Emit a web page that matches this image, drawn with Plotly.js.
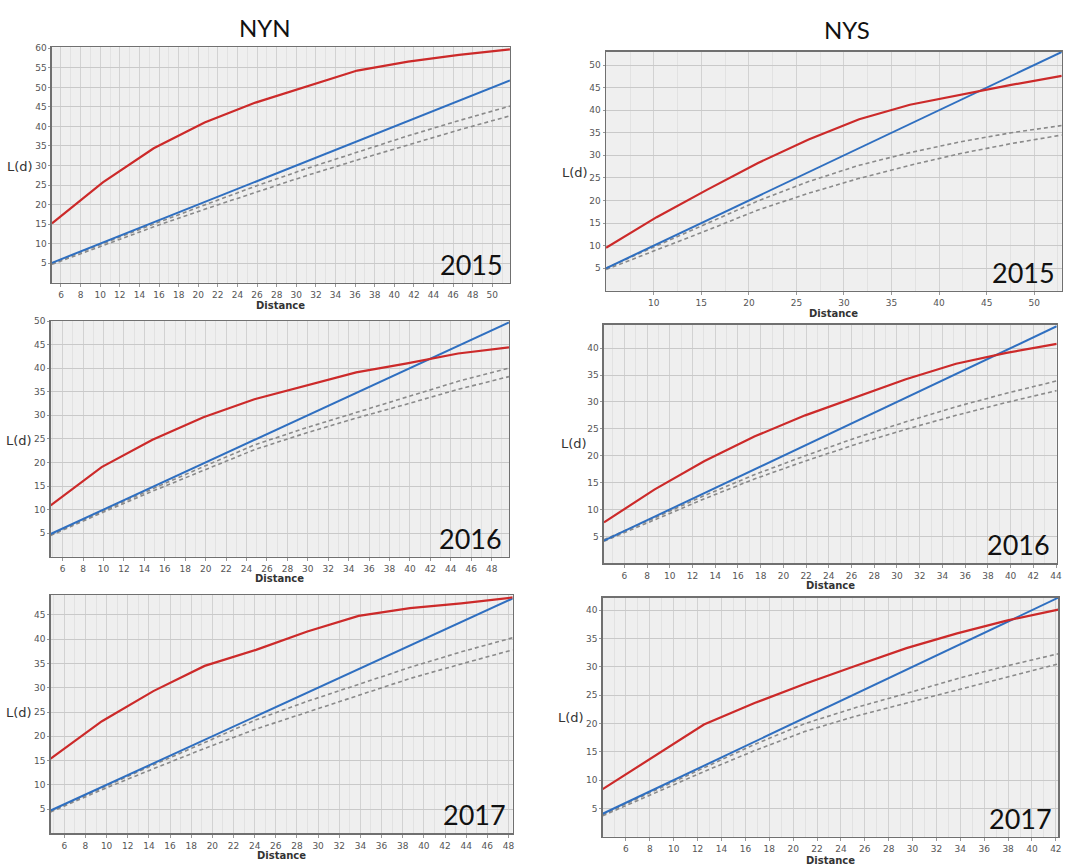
<!DOCTYPE html>
<html>
<head>
<meta charset="utf-8">
<script src="https://cdn.plot.ly/plotly-3.0.1.min.js"></script>
<style>html,body{margin:0;padding:0;background:#fff;}#chart{width:1092px;height:865px;}</style>
</head>
<body>
<div id="chart"></div>
<script>
// ---- Data ----
const regions = ["NYN", "NYS"];
const years = ["2015", "2016", "2017"];

// NYN 2015
const nyn2015Distance = [5.08, 10.27, 15.46, 20.65, 25.84, 31.03, 36.22, 41.41, 46.6, 51.8];
const nyn2015Observed = [15.2, 25.7, 34.4, 41.0, 46.1, 50.2, 54.3, 56.6, 58.3, 59.7];
const nyn2015Expected = [5.08, 10.27, 15.46, 20.65, 25.84, 31.03, 36.22, 41.41, 46.6, 51.8];
const nyn2015Upper    = [5.0, 10.1, 15.0, 19.9, 24.7, 29.2, 33.4, 37.6, 41.5, 45.2];
const nyn2015Lower    = [4.7, 9.6, 14.3, 18.8, 23.2, 27.4, 31.4, 35.3, 39.1, 42.7];

// NYS 2015
const nys2015Distance = [4.98, 10.3, 15.63, 20.96, 26.28, 31.6, 36.93, 42.26, 47.58, 52.9];
const nys2015Observed = [9.5, 16.3, 22.4, 28.3, 33.5, 38.0, 41.2, 43.4, 45.6, 47.6];
const nys2015Expected = [4.98, 10.3, 15.63, 20.96, 26.28, 31.6, 36.93, 42.26, 47.58, 52.9];
const nys2015Upper    = [5.0, 10.0, 15.0, 19.9, 24.2, 27.8, 30.6, 33.0, 35.0, 36.6];
const nys2015Lower    = [4.7, 9.0, 13.4, 17.9, 21.6, 24.9, 27.8, 30.4, 32.6, 34.5];

// NYN 2016
const nyn2016Distance = [4.82, 9.81, 14.79, 19.78, 24.77, 29.76, 34.74, 39.73, 44.72, 49.7];
const nyn2016Observed = [10.9, 19.0, 24.8, 29.6, 33.4, 36.2, 39.1, 41.0, 43.1, 44.4];
const nyn2016Expected = [4.82, 9.81, 14.79, 19.78, 24.77, 29.76, 34.74, 39.73, 44.72, 49.7];
const nyn2016Upper    = [4.7, 9.6, 14.4, 19.1, 23.7, 27.3, 30.6, 34.0, 37.2, 40.0];
const nyn2016Lower    = [4.5, 9.3, 13.9, 18.3, 22.7, 26.2, 29.4, 32.4, 35.5, 38.2];

// NYS 2016
const nys2016Distance = [4.21, 8.64, 13.06, 17.49, 21.92, 26.35, 30.78, 35.2, 39.63, 44.06];
const nys2016Observed = [7.6, 13.7, 19.0, 23.6, 27.5, 30.9, 34.2, 37.1, 39.1, 40.8];
const nys2016Expected = [4.21, 8.64, 13.06, 17.49, 21.92, 26.35, 30.78, 35.2, 39.63, 44.06];
const nys2016Upper    = [4.4, 8.4, 12.6, 16.5, 20.0, 23.3, 26.3, 29.1, 31.6, 33.9];
const nys2016Lower    = [4.1, 8.1, 12.0, 15.7, 19.0, 22.1, 24.9, 27.5, 29.9, 32.1];

// NYN 2017
const nyn2017Distance = [4.71, 9.56, 14.42, 19.27, 24.13, 28.98, 33.83, 38.69, 43.54, 48.4];
const nyn2017Observed = [15.4, 23.1, 29.3, 34.5, 37.8, 41.6, 44.8, 46.4, 47.4, 48.6];
const nyn2017Expected = [4.71, 9.56, 14.42, 19.27, 24.13, 28.98, 33.83, 38.69, 43.54, 48.4];
const nyn2017Upper    = [4.6, 9.4, 14.1, 18.7, 23.4, 27.2, 30.7, 34.2, 37.4, 40.3];
const nyn2017Lower    = [4.4, 9.0, 13.3, 17.5, 21.5, 25.0, 28.5, 31.9, 34.9, 37.8];

// NYS 2017
const nys2017Distance = [4.05, 8.29, 12.53, 16.77, 21.01, 25.25, 29.49, 33.73, 37.96, 42.2];
const nys2017Observed = [8.4, 14.1, 19.8, 23.6, 27.0, 30.2, 33.3, 35.9, 38.2, 40.1];
const nys2017Expected = [4.05, 8.29, 12.53, 16.77, 21.01, 25.25, 29.49, 33.73, 37.96, 42.2];
const nys2017Upper    = [3.9, 8.0, 12.2, 16.3, 20.0, 22.8, 25.3, 27.9, 30.2, 32.3];
const nys2017Lower    = [3.7, 7.6, 11.5, 15.2, 18.6, 21.3, 23.6, 26.0, 28.3, 30.5];

// Tick labels
const xTicksNYN2015 = [6,8,10,12,14,16,18,20,22,24,26,28,30,32,34,36,38,40,42,44,46,48,50];
const yTicksNYN2015 = [5,10,15,20,25,30,35,40,45,50,55,60];
const xTicksNYS2015 = [10,15,20,25,30,35,40,45,50];
const yTicksNYS2015 = [5,10,15,20,25,30,35,40,45,50];
const xTicksNYN2016 = [6,8,10,12,14,16,18,20,22,24,26,28,30,32,34,36,38,40,42,44,46,48];
const yTicksNYN2016 = [5,10,15,20,25,30,35,40,45,50];
const xTicksNYS2016 = [6,8,10,12,14,16,18,20,22,24,26,28,30,32,34,36,38,40,42,44];
const yTicksNYS2016 = [5,10,15,20,25,30,35,40];
const xTicksNYN2017 = [6,8,10,12,14,16,18,20,22,24,26,28,30,32,34,36,38,40,42,44,46,48];
const yTicksNYN2017 = [5,10,15,20,25,30,35,40,45];
const xTicksNYS2017 = [6,8,10,12,14,16,18,20,22,24,26,28,30,32,34,36,38,40,42];
const yTicksNYS2017 = [5,10,15,20,25,30,35,40];

// ---- Panels ----
const panels = [
  {d: nyn2015Distance, obs: nyn2015Observed, exp: nyn2015Expected, up: nyn2015Upper, lo: nyn2015Lower,
   xr: [5.08, 51.8], yr: [0, 60.25], xt: xTicksNYN2015, yt: yTicksNYN2015, minorX: 1,
   dom: {x: [0.0476, 0.467], y: [0.6732, 0.9453]}, year: years[0],
   ld: [35, 166], dist: 305},
  {d: nys2015Distance, obs: nys2015Observed, exp: nys2015Expected, up: nys2015Upper, lo: nys2015Lower,
   xr: [4.98, 52.9], yr: [0, 52.9], xt: xTicksNYS2015, yt: yTicksNYS2015, minorX: 2.5,
   dom: {x: [0.555, 0.9723], y: [0.6639, 0.9399]}, year: years[0],
   ld: [590, 172], dist: 313},
  {d: nyn2016Distance, obs: nyn2016Observed, exp: nyn2016Expected, up: nyn2016Upper, lo: nyn2016Lower,
   xr: [4.82, 49.7], yr: [0, 50], xt: xTicksNYN2016, yt: yTicksNYN2016, minorX: 1,
   dom: {x: [0.0464, 0.4661], y: [0.3564, 0.6289]}, year: years[1],
   ld: [34, 440], dist: 578},
  {d: nys2016Distance, obs: nys2016Observed, exp: nys2016Expected, up: nys2016Upper, lo: nys2016Lower,
   xr: [4.21, 44.06], yr: [0, 44.3], xt: xTicksNYS2016, yt: yTicksNYS2016, minorX: 1,
   dom: {x: [0.5531, 0.9677], y: [0.3488, 0.6243]}, year: years[1],
   ld: [589, 444], dist: 585},
  {d: nyn2017Distance, obs: nyn2017Observed, exp: nyn2017Expected, up: nyn2017Upper, lo: nyn2017Lower,
   xr: [4.71, 48.4], yr: [0, 49.1], xt: xTicksNYN2017, yt: yTicksNYN2017, minorX: 1,
   dom: {x: [0.0464, 0.4695], y: [0.0366, 0.3121]}, year: years[2],
   ld: [34, 712], dist: 855},
  {d: nys2017Distance, obs: nys2017Observed, exp: nys2017Expected, up: nys2017Upper, lo: nys2017Lower,
   xr: [4.05, 42.2], yr: [0, 42.2], xt: xTicksNYS2017, yt: yTicksNYS2017, minorX: 1,
   dom: {x: [0.5519, 0.9691], y: [0.0327, 0.309]}, year: years[2],
   ld: [586, 717], dist: 860}
];

const W = 1092, H = 865;
const traces = [];
const layout = {
  width: W, height: H,
  margin: {l: 0, r: 0, t: 0, b: 0},
  paper_bgcolor: '#ffffff',
  showlegend: false,
  annotations: [],
  shapes: [],
  font: {family: 'DejaVu Sans, Verdana, sans-serif', size: 9, color: '#555'}
};

panels.forEach((p, i) => {
  const n = i + 1;
  const xa = 'x' + (n === 1 ? '' : n), ya = 'y' + (n === 1 ? '' : n);
  const xk = 'xaxis' + (n === 1 ? '' : n), yk = 'yaxis' + (n === 1 ? '' : n);
  traces.push({x: p.d, y: p.up, xaxis: xa, yaxis: ya, mode: 'lines', name: 'Upper',
    line: {color: '#8a8a8a', width: 1.6, dash: '4px,3px'}, hoverinfo: 'skip'});
  traces.push({x: p.d, y: p.lo, xaxis: xa, yaxis: ya, mode: 'lines', name: 'Lower',
    line: {color: '#8a8a8a', width: 1.6, dash: '4px,3px'}, hoverinfo: 'skip'});
  traces.push({x: p.d, y: p.exp, xaxis: xa, yaxis: ya, mode: 'lines', name: 'Expected',
    line: {color: '#2f6fc0', width: 2}});
  traces.push({x: p.d, y: p.obs, xaxis: xa, yaxis: ya, mode: 'lines', name: 'Observed',
    line: {color: '#cc2a2a', width: 2.2}});

  layout[xk] = {
    domain: p.dom.x, anchor: ya, range: p.xr,
    tickmode: 'array', tickvals: p.xt, ticktext: p.xt.map(String),
    ticks: 'outside', ticklen: 3, tickcolor: '#999',
    showline: true, mirror: true, linecolor: '#707070', linewidth: 1.5,
    showgrid: true, gridcolor: '#d2d2d2', gridwidth: 1,
    minor: {tick0: 0, dtick: p.minorX, showgrid: true, gridcolor: '#e2e2e2', gridwidth: 1},
    zeroline: false, tickfont: {size: 9, color: '#555', family: 'DejaVu Sans, sans-serif'},
    fixedrange: true
  };
  layout[yk] = {
    domain: p.dom.y, anchor: xa, range: p.yr,
    tickmode: 'array', tickvals: p.yt, ticktext: p.yt.map(String),
    ticks: 'outside', ticklen: 2, tickcolor: '#999',
    showline: true, mirror: true, linecolor: '#707070', linewidth: 1.5,
    showgrid: true, gridcolor: '#c9c9c9', gridwidth: 1,
    zeroline: false, tickfont: {size: 9, color: '#555', family: 'DejaVu Sans, sans-serif'},
    fixedrange: true
  };
  layout.shapes.push({type: 'rect', xref: xa + ' domain', yref: ya + ' domain', x0: 0, x1: 1, y0: 0, y1: 1,
    fillcolor: '#efefef', line: {width: 0}, layer: 'below'});

  // Year label
  layout.annotations.push({xref: xa + ' domain', yref: ya + ' domain', x: 0.99, y: 0.0,
    xanchor: 'right', yanchor: 'bottom', text: p.year, showarrow: false,
    font: {family: 'Lato, Open Sans, sans-serif', size: 27, color: '#111'}});
  // L(d) label
  layout.annotations.push({xref: 'paper', yref: 'paper', x: p.ld[0] / W, y: 1 - p.ld[1] / H,
    xanchor: 'right', yanchor: 'middle', text: 'L(d)', showarrow: false,
    font: {family: 'DejaVu Sans, sans-serif', size: 13, color: '#333'}});
  // Distance label
  const cx = (p.dom.x[0] + p.dom.x[1]) / 2;
  layout.annotations.push({xref: 'paper', yref: 'paper', x: cx, y: 1 - p.dist / H,
    xanchor: 'center', yanchor: 'middle', text: '<b>Distance</b>', showarrow: false,
    font: {family: 'DejaVu Sans, sans-serif', size: 10, color: '#333'}});
});

// Column titles
layout.annotations.push({xref: 'paper', yref: 'paper', x: 265 / W, y: 1 - 27 / H, xanchor: 'center', yanchor: 'middle',
  text: regions[0], showarrow: false, font: {family: 'Lato, Open Sans, sans-serif', size: 24, color: '#111'}});
layout.annotations.push({xref: 'paper', yref: 'paper', x: 847 / W, y: 1 - 30 / H, xanchor: 'center', yanchor: 'middle',
  text: regions[1], showarrow: false, font: {family: 'Lato, Open Sans, sans-serif', size: 24, color: '#111'}});

Plotly.newPlot('chart', traces, layout, {staticPlot: true, displayModeBar: false});
</script>
</body>
</html>
